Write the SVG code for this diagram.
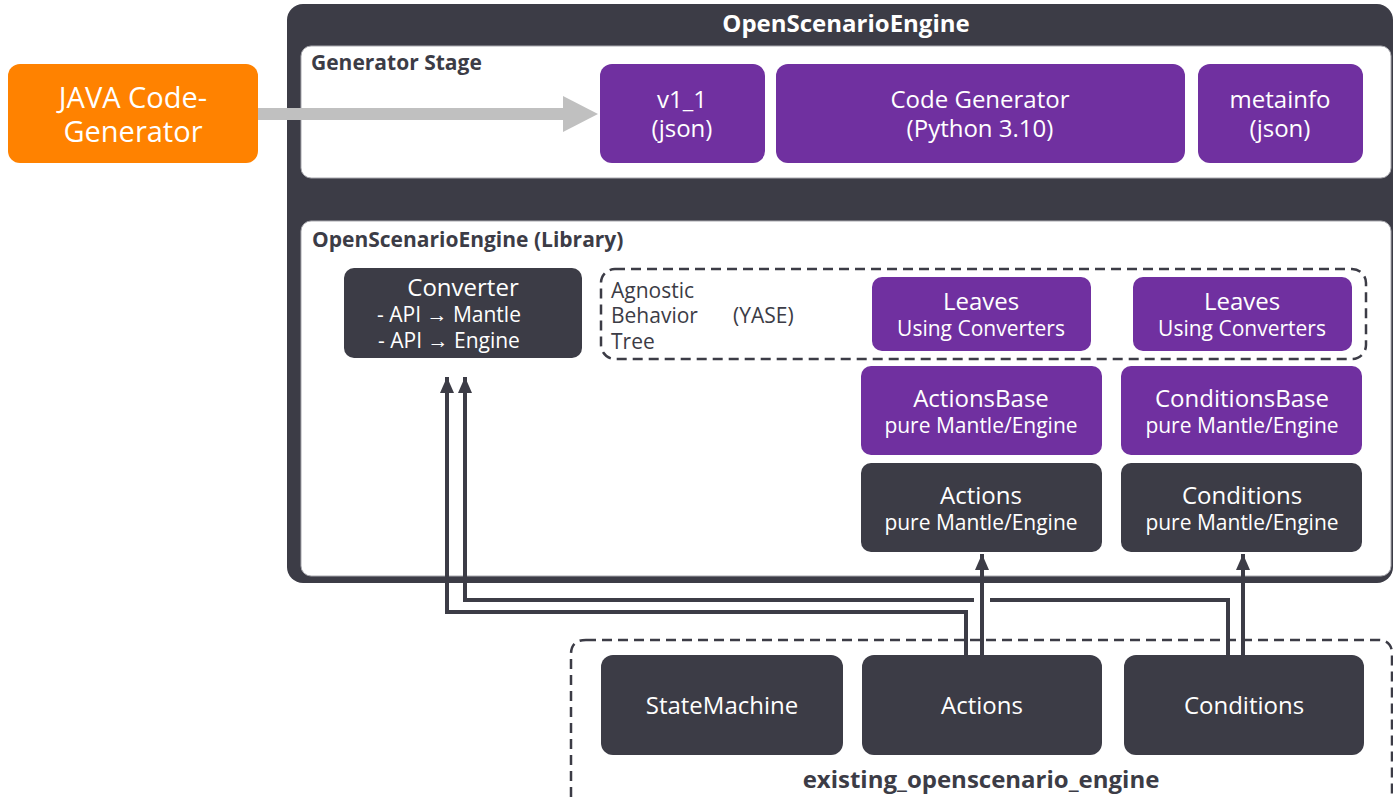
<svg xmlns="http://www.w3.org/2000/svg" width="1393" height="797" viewBox="0 0 1393 797">
<defs>
<style>
text{font-family:"Open Sans","Noto Sans","Liberation Sans",sans-serif;}
.w{fill:#ffffff;text-anchor:middle;}
.big{font-size:24px;}
.sm{font-size:21px;}
.hd{font-weight:bold;font-size:21px;fill:#3c3c46;}
.dark{fill:#3c3c46;}
.purp{fill:#7030a0;}
.panel{fill:#ffffff;stroke:#a8a8ae;stroke-width:1;}
.dash{fill:none;stroke:#3c3c46;stroke-width:2.5;stroke-dasharray:10,6;}
.con{fill:none;stroke:#3c3c46;stroke-width:4;}
.lt{fill:#3c3c46;font-size:21px;}
</style>
<marker id="ah" markerWidth="16" markerHeight="14" refX="16" refY="7" orient="auto" markerUnits="userSpaceOnUse">
<path d="M0,0 L16,7 L0,14 Z" fill="#3c3c46"/>
</marker>
</defs>

<g id="engine-frame">
<rect x="287" y="4" width="1106" height="579" rx="16" class="dark"/>
<text x="846" y="32" class="w" font-weight="bold" font-size="24">OpenScenarioEngine</text>
</g>

<g id="generator-stage">
<rect x="301" y="46" width="1090" height="132" rx="10" class="panel"/>
<text x="311" y="70" class="hd">Generator Stage</text>
</g>

<g id="library">
<rect x="301" y="221" width="1090" height="355" rx="10" class="panel"/>
<text x="312" y="247" class="hd">OpenScenarioEngine (Library)</text>
</g>

<g id="java">
<rect x="8" y="64" width="250" height="99" rx="12" fill="#ff8200"/>
<text x="133" y="108" class="w" font-size="29">JAVA Code-</text>
<text x="133" y="142" class="w" font-size="29">Generator</text>
</g>

<g id="gen-arrow">
<rect x="258" y="108" width="306" height="12" fill="#c0c0c0"/>
<path d="M563,96 L598,114 L563,132 Z" fill="#c0c0c0"/>
</g>

<g id="v1_1">
<rect x="600" y="64" width="165" height="99" rx="12" class="purp"/>
<text x="682" y="108" class="w big">v1_1</text>
<text x="682" y="137" class="w big">(json)</text>
</g>
<g id="codegen">
<rect x="776" y="64" width="409" height="99" rx="12" class="purp"/>
<text x="980" y="108" class="w big">Code Generator</text>
<text x="980" y="137" class="w big">(Python 3.10)</text>
</g>
<g id="metainfo">
<rect x="1198" y="64" width="165" height="99" rx="12" class="purp"/>
<text x="1280" y="108" class="w big">metainfo</text>
<text x="1280" y="137" class="w big">(json)</text>
</g>

<g id="converter">
<rect x="344" y="268" width="238" height="90" rx="10" class="dark"/>
<text x="463" y="296" class="w big">Converter</text>
<text x="449" y="322" class="w sm">- API → Mantle</text>
<text x="449" y="348" class="w sm">- API → Engine</text>
</g>

<g id="yase">
<rect x="601" y="269" width="765" height="90" rx="14" class="dash"/>
<text x="611" y="298" class="lt">Agnostic</text>
<text x="611" y="323" class="lt">Behavior</text>
<text x="611" y="349" class="lt">Tree</text>
<text x="733" y="323" class="lt">(YASE)</text>
</g>

<g id="leaves1">
<rect x="872" y="277" width="219" height="74" rx="10" class="purp"/>
<text x="981" y="310" class="w big">Leaves</text>
<text x="981" y="336" class="w sm">Using Converters</text>
</g>
<g id="leaves2">
<rect x="1133" y="277" width="219" height="74" rx="10" class="purp"/>
<text x="1242" y="310" class="w big">Leaves</text>
<text x="1242" y="336" class="w sm">Using Converters</text>
</g>

<g id="actionsbase">
<rect x="861" y="366" width="241" height="89" rx="10" class="purp"/>
<text x="981" y="407" class="w big">ActionsBase</text>
<text x="981" y="433" class="w sm">pure Mantle/Engine</text>
</g>
<g id="conditionsbase">
<rect x="1121" y="366" width="241" height="89" rx="10" class="purp"/>
<text x="1242" y="407" class="w big">ConditionsBase</text>
<text x="1242" y="433" class="w sm">pure Mantle/Engine</text>
</g>

<g id="actions-lib">
<rect x="861" y="463" width="241" height="89" rx="10" class="dark"/>
<text x="981" y="504" class="w big">Actions</text>
<text x="981" y="530" class="w sm">pure Mantle/Engine</text>
</g>
<g id="conditions-lib">
<rect x="1121" y="463" width="241" height="89" rx="10" class="dark"/>
<text x="1242" y="504" class="w big">Conditions</text>
<text x="1242" y="530" class="w sm">pure Mantle/Engine</text>
</g>

<g id="existing">
<path d="M586,640 H1378 Q1392,640 1392,654 V797 M571,797 V654 Q571,640 586,640" class="dash"/>
<text x="981" y="788" text-anchor="middle" font-weight="bold" font-size="24" fill="#3c3c46">existing_openscenario_engine</text>
</g>
<g id="statemachine">
<rect x="601" y="655" width="242" height="100" rx="12" class="dark"/>
<text x="722" y="714" class="w big">StateMachine</text>
</g>
<g id="actions-ext">
<rect x="862" y="655" width="240" height="100" rx="12" class="dark"/>
<text x="982" y="714" class="w big">Actions</text>
</g>
<g id="conditions-ext">
<rect x="1124" y="655" width="240" height="100" rx="12" class="dark"/>
<text x="1244" y="714" class="w big">Conditions</text>
</g>

<g id="connectors">
<path d="M966,655 V612 H447 V377" class="con" marker-end="url(#ah)"/>
<path d="M1228,655 V600 H990 M974,600 H465 V377" class="con" marker-end="url(#ah)"/>
<path d="M982,655 V554" class="con" marker-end="url(#ah)"/>
<path d="M1243,655 V554" class="con" marker-end="url(#ah)"/>
</g>
</svg>
